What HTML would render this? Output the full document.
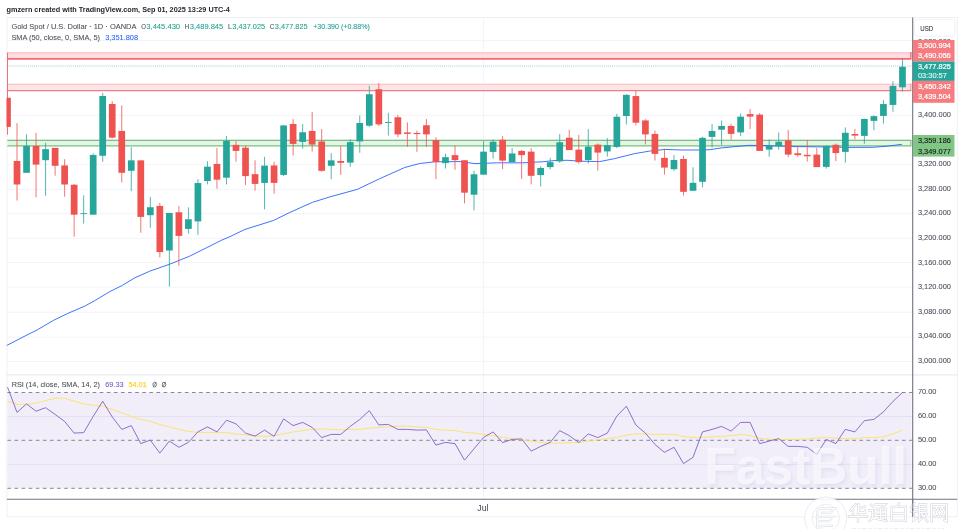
<!DOCTYPE html>
<html><head><meta charset="utf-8"><title>chart</title>
<style>html,body{margin:0;padding:0;background:#fff;}svg{display:block;font-family:"Liberation Sans",sans-serif;}</style></head><body>
<svg width="964" height="529" viewBox="0 0 964 529">
<rect x="0" y="0" width="964" height="529" fill="#ffffff"/>
<g opacity="0.999">
<defs><clipPath id="cp"><rect x="6.5" y="17.5" width="906.2" height="481.8"/></clipPath></defs>
<text x="6.5" y="11.9" font-size="7.3" font-weight="bold" fill="#1d2029" textLength="223.3" lengthAdjust="spacingAndGlyphs">gmzern created with TradingView.com, Sep 01, 2025 13:29 UTC-4</text>
<rect x="6.9" y="17.5" width="950.4" height="499.29999999999995" fill="none" stroke="#eef0f4" stroke-width="1"/>
<line x1="7.4" y1="40.6" x2="912.2" y2="40.6" stroke="#f2f4fb" stroke-width="1"/>
<line x1="7.4" y1="65.2" x2="912.2" y2="65.2" stroke="#f2f4fb" stroke-width="1"/>
<line x1="7.4" y1="90.4" x2="912.2" y2="90.4" stroke="#f2f4fb" stroke-width="1"/>
<line x1="7.4" y1="115.3" x2="912.2" y2="115.3" stroke="#f2f4fb" stroke-width="1"/>
<line x1="7.4" y1="139.9" x2="912.2" y2="139.9" stroke="#f2f4fb" stroke-width="1"/>
<line x1="7.4" y1="164.4" x2="912.2" y2="164.4" stroke="#f2f4fb" stroke-width="1"/>
<line x1="7.4" y1="189.3" x2="912.2" y2="189.3" stroke="#f2f4fb" stroke-width="1"/>
<line x1="7.4" y1="213.6" x2="912.2" y2="213.6" stroke="#f2f4fb" stroke-width="1"/>
<line x1="7.4" y1="238.3" x2="912.2" y2="238.3" stroke="#f2f4fb" stroke-width="1"/>
<line x1="7.4" y1="262.6" x2="912.2" y2="262.6" stroke="#f2f4fb" stroke-width="1"/>
<line x1="7.4" y1="287.1" x2="912.2" y2="287.1" stroke="#f2f4fb" stroke-width="1"/>
<line x1="7.4" y1="312.2" x2="912.2" y2="312.2" stroke="#f2f4fb" stroke-width="1"/>
<line x1="7.4" y1="337.1" x2="912.2" y2="337.1" stroke="#f2f4fb" stroke-width="1"/>
<line x1="7.4" y1="361.4" x2="912.2" y2="361.4" stroke="#f2f4fb" stroke-width="1"/>
<line x1="483.5" y1="17.5" x2="483.5" y2="499" stroke="#f2f4fb" stroke-width="1"/>
<line x1="6.9" y1="374.9" x2="957.3" y2="374.9" stroke="#e4e6ee" stroke-width="1"/>
<g clip-path="url(#cp)">
<rect x="7.4" y="52.0" width="903.9" height="6.950000000000003" fill="#fddde0"/>
<line x1="7.4" y1="53.0" x2="911.3" y2="53.0" stroke="#fdcdd1" stroke-width="2.0"/>
<line x1="7.4" y1="58.95" x2="911.3" y2="58.95" stroke="#f76873" stroke-width="1.75"/>
<line x1="910.9" y1="52.0" x2="910.9" y2="58.95" stroke="#f76873" stroke-width="1.40"/>
<rect x="7.4" y="83.7" width="903.9" height="6.849999999999994" fill="#fde4e6"/>
<line x1="7.4" y1="84.3" x2="911.3" y2="84.3" stroke="#fac8cb" stroke-width="1.2"/>
<line x1="7.4" y1="90.55" x2="911.3" y2="90.55" stroke="#f77c82" stroke-width="1.15"/>
<line x1="910.9" y1="83.7" x2="910.9" y2="90.55" stroke="#f77c82" stroke-width="0.92"/>
<rect x="7.4" y="140.3" width="903.9" height="5.5" fill="#e7f4e8"/>
<line x1="7.4" y1="140.35" x2="911.3" y2="140.35" stroke="#79c17e" stroke-width="1.25"/>
<line x1="7.4" y1="145.8" x2="911.3" y2="145.8" stroke="#79c17e" stroke-width="1.35"/>
<line x1="910.9" y1="140.3" x2="910.9" y2="146.2" stroke="#79c17e" stroke-width="1.1"/>
<line x1="7.4" y1="66.3" x2="912.2" y2="66.3" stroke="#26a69a" stroke-width="0.8" stroke-dasharray="0.9 1.15" opacity="0.5"/>
<polyline points="6.7,345.5 25.0,336.0 37.4,329.8 53.6,320.3 67.4,313.6 84.8,306.1 94.8,300.6 109.8,291.6 122.3,285.4 134.7,277.9 149.7,271.2 169.7,264.2 189.6,256.2 207.1,247.5 222.0,240.0 230.0,236.6 245.0,229.4 273.7,220.4 289.9,212.4 312.3,202.4 329.8,196.9 357.2,189.4 379.7,178.7 404.7,167.5 419.6,163.5 434.6,161.8 460.0,161.6 475.0,163.6 497.4,162.8 522.4,162.8 542.3,161.8 556.0,160.4 568.0,160.3 580.0,161.2 599.7,161.6 614.7,158.6 634.7,153.6 649.6,151.1 665.0,149.4 682.0,150.0 699.0,150.0 710.0,149.7 720.0,148.1 735.0,146.6 748.5,145.4 765.0,145.5 790.0,146.5 815.0,146.8 832.0,147.0 848.0,147.4 873.0,147.3 887.0,146.2 895.0,145.2 902.0,144.3" fill="none" stroke="#2962ff" stroke-width="0.9" stroke-linejoin="round"/>
<line x1="7.50" y1="52.5" x2="7.50" y2="134.8" stroke="#ef5350" stroke-width="0.8"/>
<rect x="4.15" y="97.75" width="6.7" height="29.15" fill="#ef5350"/>
<line x1="17.02" y1="123.1" x2="17.02" y2="200.6" stroke="#ef5350" stroke-width="0.8"/>
<rect x="13.67" y="160.95" width="6.7" height="23.55" fill="#ef5350"/>
<line x1="26.54" y1="134.3" x2="26.54" y2="172.5" stroke="#26a69a" stroke-width="0.8"/>
<rect x="23.19" y="145.85" width="6.7" height="26.95" fill="#26a69a"/>
<line x1="36.06" y1="132.8" x2="36.06" y2="197.4" stroke="#ef5350" stroke-width="0.8"/>
<rect x="32.71" y="145.85" width="6.7" height="18.75" fill="#ef5350"/>
<line x1="45.58" y1="142.8" x2="45.58" y2="195.7" stroke="#26a69a" stroke-width="0.8"/>
<rect x="42.23" y="149.15" width="6.7" height="11.05" fill="#26a69a"/>
<line x1="55.11" y1="148.0" x2="55.11" y2="175.7" stroke="#ef5350" stroke-width="0.8"/>
<rect x="51.76" y="147.85" width="6.7" height="17.95" fill="#ef5350"/>
<line x1="64.63" y1="159.2" x2="64.63" y2="196.7" stroke="#ef5350" stroke-width="0.8"/>
<rect x="61.28" y="165.45" width="6.7" height="19.05" fill="#ef5350"/>
<line x1="74.15" y1="184.0" x2="74.15" y2="236.6" stroke="#ef5350" stroke-width="0.8"/>
<rect x="70.80" y="184.75" width="6.7" height="29.95" fill="#ef5350"/>
<line x1="83.67" y1="195.4" x2="83.67" y2="223.6" stroke="#26a69a" stroke-width="0.8"/>
<rect x="80.32" y="213.20" width="6.7" height="0.90" fill="#26a69a"/>
<line x1="93.19" y1="153.3" x2="93.19" y2="214.4" stroke="#26a69a" stroke-width="0.8"/>
<rect x="89.84" y="154.95" width="6.7" height="59.75" fill="#26a69a"/>
<line x1="102.71" y1="92.9" x2="102.71" y2="161.8" stroke="#26a69a" stroke-width="0.8"/>
<rect x="99.36" y="95.95" width="6.7" height="59.85" fill="#26a69a"/>
<line x1="112.23" y1="101.1" x2="112.23" y2="138.5" stroke="#ef5350" stroke-width="0.8"/>
<rect x="108.88" y="103.95" width="6.7" height="33.65" fill="#ef5350"/>
<line x1="121.75" y1="105.4" x2="121.75" y2="182.4" stroke="#ef5350" stroke-width="0.8"/>
<rect x="118.40" y="130.95" width="6.7" height="41.85" fill="#ef5350"/>
<line x1="131.27" y1="147.3" x2="131.27" y2="191.2" stroke="#26a69a" stroke-width="0.8"/>
<rect x="127.92" y="160.35" width="6.7" height="10.45" fill="#26a69a"/>
<line x1="140.79" y1="160.5" x2="140.79" y2="232.8" stroke="#ef5350" stroke-width="0.8"/>
<rect x="137.44" y="160.35" width="6.7" height="56.55" fill="#ef5350"/>
<line x1="150.31" y1="196.9" x2="150.31" y2="227.8" stroke="#26a69a" stroke-width="0.8"/>
<rect x="146.97" y="207.25" width="6.7" height="7.95" fill="#26a69a"/>
<line x1="159.84" y1="202.9" x2="159.84" y2="257.4" stroke="#ef5350" stroke-width="0.8"/>
<rect x="156.49" y="205.95" width="6.7" height="46.15" fill="#ef5350"/>
<line x1="169.36" y1="213.1" x2="169.36" y2="286.5" stroke="#26a69a" stroke-width="0.8"/>
<rect x="166.01" y="212.95" width="6.7" height="37.55" fill="#26a69a"/>
<line x1="178.88" y1="206.1" x2="178.88" y2="265.8" stroke="#ef5350" stroke-width="0.8"/>
<rect x="175.53" y="212.25" width="6.7" height="23.65" fill="#ef5350"/>
<line x1="188.40" y1="207.4" x2="188.40" y2="233.6" stroke="#26a69a" stroke-width="0.8"/>
<rect x="185.05" y="219.25" width="6.7" height="9.65" fill="#26a69a"/>
<line x1="197.92" y1="179.2" x2="197.92" y2="234.8" stroke="#26a69a" stroke-width="0.8"/>
<rect x="194.57" y="183.05" width="6.7" height="38.35" fill="#26a69a"/>
<line x1="207.44" y1="161.1" x2="207.44" y2="184.4" stroke="#26a69a" stroke-width="0.8"/>
<rect x="204.09" y="166.65" width="6.7" height="14.35" fill="#26a69a"/>
<line x1="216.96" y1="148.0" x2="216.96" y2="188.7" stroke="#ef5350" stroke-width="0.8"/>
<rect x="213.61" y="163.95" width="6.7" height="15.75" fill="#ef5350"/>
<line x1="226.48" y1="136.0" x2="226.48" y2="184.4" stroke="#26a69a" stroke-width="0.8"/>
<rect x="223.13" y="140.85" width="6.7" height="36.85" fill="#26a69a"/>
<line x1="236.00" y1="141.1" x2="236.00" y2="161.7" stroke="#ef5350" stroke-width="0.8"/>
<rect x="232.65" y="144.85" width="6.7" height="6.05" fill="#ef5350"/>
<line x1="245.53" y1="145.6" x2="245.53" y2="184.9" stroke="#ef5350" stroke-width="0.8"/>
<rect x="242.18" y="147.65" width="6.7" height="28.45" fill="#ef5350"/>
<line x1="255.05" y1="160.3" x2="255.05" y2="190.7" stroke="#ef5350" stroke-width="0.8"/>
<rect x="251.70" y="174.15" width="6.7" height="9.75" fill="#ef5350"/>
<line x1="264.57" y1="156.8" x2="264.57" y2="209.4" stroke="#26a69a" stroke-width="0.8"/>
<rect x="261.22" y="165.65" width="6.7" height="17.25" fill="#26a69a"/>
<line x1="274.09" y1="161.8" x2="274.09" y2="193.7" stroke="#ef5350" stroke-width="0.8"/>
<rect x="270.74" y="165.45" width="6.7" height="17.45" fill="#ef5350"/>
<line x1="283.61" y1="124.9" x2="283.61" y2="176.1" stroke="#26a69a" stroke-width="0.8"/>
<rect x="280.26" y="125.45" width="6.7" height="49.45" fill="#26a69a"/>
<line x1="293.13" y1="119.1" x2="293.13" y2="155.6" stroke="#ef5350" stroke-width="0.8"/>
<rect x="289.78" y="123.95" width="6.7" height="19.95" fill="#ef5350"/>
<line x1="302.65" y1="124.1" x2="302.65" y2="148.6" stroke="#26a69a" stroke-width="0.8"/>
<rect x="299.30" y="132.25" width="6.7" height="9.65" fill="#26a69a"/>
<line x1="312.17" y1="111.9" x2="312.17" y2="151.6" stroke="#ef5350" stroke-width="0.8"/>
<rect x="308.82" y="130.95" width="6.7" height="13.65" fill="#ef5350"/>
<line x1="321.69" y1="129.1" x2="321.69" y2="171.8" stroke="#ef5350" stroke-width="0.8"/>
<rect x="318.34" y="141.45" width="6.7" height="29.35" fill="#ef5350"/>
<line x1="331.21" y1="153.1" x2="331.21" y2="179.3" stroke="#26a69a" stroke-width="0.8"/>
<rect x="327.86" y="160.35" width="6.7" height="5.45" fill="#26a69a"/>
<line x1="340.74" y1="146.1" x2="340.74" y2="174.8" stroke="#ef5350" stroke-width="0.8"/>
<rect x="337.38" y="161.00" width="6.7" height="1.80" fill="#ef5350"/>
<line x1="350.26" y1="139.3" x2="350.26" y2="166.8" stroke="#26a69a" stroke-width="0.8"/>
<rect x="346.91" y="142.15" width="6.7" height="20.45" fill="#26a69a"/>
<line x1="359.78" y1="115.4" x2="359.78" y2="152.8" stroke="#26a69a" stroke-width="0.8"/>
<rect x="356.43" y="122.95" width="6.7" height="18.45" fill="#26a69a"/>
<line x1="369.30" y1="85.7" x2="369.30" y2="126.9" stroke="#26a69a" stroke-width="0.8"/>
<rect x="365.95" y="94.25" width="6.7" height="31.45" fill="#26a69a"/>
<line x1="378.82" y1="83.0" x2="378.82" y2="126.1" stroke="#ef5350" stroke-width="0.8"/>
<rect x="375.47" y="89.25" width="6.7" height="35.15" fill="#ef5350"/>
<line x1="388.34" y1="112.9" x2="388.34" y2="135.6" stroke="#26a69a" stroke-width="0.8"/>
<rect x="384.99" y="122.00" width="6.7" height="0.90" fill="#26a69a"/>
<line x1="397.86" y1="114.9" x2="397.86" y2="137.3" stroke="#ef5350" stroke-width="0.8"/>
<rect x="394.51" y="117.25" width="6.7" height="17.15" fill="#ef5350"/>
<line x1="407.38" y1="122.4" x2="407.38" y2="146.8" stroke="#ef5350" stroke-width="0.8"/>
<rect x="404.03" y="132.40" width="6.7" height="1.50" fill="#ef5350"/>
<line x1="416.90" y1="130.6" x2="416.90" y2="151.8" stroke="#ef5350" stroke-width="0.8"/>
<rect x="413.55" y="132.90" width="6.7" height="1.20" fill="#ef5350"/>
<line x1="426.42" y1="119.1" x2="426.42" y2="146.8" stroke="#ef5350" stroke-width="0.8"/>
<rect x="423.07" y="125.25" width="6.7" height="9.15" fill="#ef5350"/>
<line x1="435.95" y1="137.3" x2="435.95" y2="179.3" stroke="#ef5350" stroke-width="0.8"/>
<rect x="432.60" y="140.15" width="6.7" height="21.95" fill="#ef5350"/>
<line x1="445.47" y1="153.6" x2="445.47" y2="168.5" stroke="#26a69a" stroke-width="0.8"/>
<rect x="442.12" y="157.15" width="6.7" height="5.95" fill="#26a69a"/>
<line x1="454.99" y1="145.6" x2="454.99" y2="169.8" stroke="#ef5350" stroke-width="0.8"/>
<rect x="451.64" y="155.15" width="6.7" height="4.95" fill="#ef5350"/>
<line x1="464.51" y1="160.4" x2="464.51" y2="203.4" stroke="#ef5350" stroke-width="0.8"/>
<rect x="461.16" y="160.25" width="6.7" height="32.45" fill="#ef5350"/>
<line x1="474.03" y1="170.8" x2="474.03" y2="210.4" stroke="#26a69a" stroke-width="0.8"/>
<rect x="470.68" y="174.25" width="6.7" height="20.45" fill="#26a69a"/>
<line x1="483.55" y1="141.1" x2="483.55" y2="174.4" stroke="#26a69a" stroke-width="0.8"/>
<rect x="480.20" y="151.65" width="6.7" height="23.05" fill="#26a69a"/>
<line x1="493.07" y1="139.4" x2="493.07" y2="158.6" stroke="#26a69a" stroke-width="0.8"/>
<rect x="489.72" y="141.75" width="6.7" height="10.15" fill="#26a69a"/>
<line x1="502.59" y1="136.1" x2="502.59" y2="169.1" stroke="#ef5350" stroke-width="0.8"/>
<rect x="499.24" y="139.75" width="6.7" height="20.85" fill="#ef5350"/>
<line x1="512.11" y1="148.1" x2="512.11" y2="161.8" stroke="#26a69a" stroke-width="0.8"/>
<rect x="508.76" y="153.45" width="6.7" height="8.65" fill="#26a69a"/>
<line x1="521.63" y1="149.8" x2="521.63" y2="179.0" stroke="#ef5350" stroke-width="0.8"/>
<rect x="518.28" y="150.95" width="6.7" height="4.15" fill="#ef5350"/>
<line x1="531.16" y1="148.1" x2="531.16" y2="184.3" stroke="#ef5350" stroke-width="0.8"/>
<rect x="527.81" y="151.65" width="6.7" height="24.15" fill="#ef5350"/>
<line x1="540.68" y1="166.1" x2="540.68" y2="186.5" stroke="#26a69a" stroke-width="0.8"/>
<rect x="537.33" y="167.95" width="6.7" height="7.15" fill="#26a69a"/>
<line x1="550.20" y1="157.8" x2="550.20" y2="169.3" stroke="#26a69a" stroke-width="0.8"/>
<rect x="546.85" y="162.15" width="6.7" height="4.95" fill="#26a69a"/>
<line x1="559.72" y1="134.1" x2="559.72" y2="162.8" stroke="#26a69a" stroke-width="0.8"/>
<rect x="556.37" y="142.25" width="6.7" height="19.15" fill="#26a69a"/>
<line x1="569.24" y1="129.9" x2="569.24" y2="149.8" stroke="#ef5350" stroke-width="0.8"/>
<rect x="565.89" y="137.75" width="6.7" height="12.35" fill="#ef5350"/>
<line x1="578.76" y1="134.9" x2="578.76" y2="163.6" stroke="#ef5350" stroke-width="0.8"/>
<rect x="575.41" y="149.65" width="6.7" height="12.45" fill="#ef5350"/>
<line x1="588.28" y1="129.1" x2="588.28" y2="163.6" stroke="#26a69a" stroke-width="0.8"/>
<rect x="584.93" y="146.65" width="6.7" height="13.45" fill="#26a69a"/>
<line x1="597.80" y1="143.6" x2="597.80" y2="170.5" stroke="#ef5350" stroke-width="0.8"/>
<rect x="594.45" y="144.65" width="6.7" height="7.95" fill="#ef5350"/>
<line x1="607.32" y1="138.1" x2="607.32" y2="156.6" stroke="#26a69a" stroke-width="0.8"/>
<rect x="603.97" y="145.15" width="6.7" height="6.25" fill="#26a69a"/>
<line x1="616.84" y1="113.7" x2="616.84" y2="148.1" stroke="#26a69a" stroke-width="0.8"/>
<rect x="613.49" y="116.75" width="6.7" height="30.15" fill="#26a69a"/>
<line x1="626.37" y1="94.2" x2="626.37" y2="124.4" stroke="#26a69a" stroke-width="0.8"/>
<rect x="623.01" y="94.85" width="6.7" height="21.15" fill="#26a69a"/>
<line x1="635.89" y1="90.7" x2="635.89" y2="125.6" stroke="#ef5350" stroke-width="0.8"/>
<rect x="632.54" y="96.05" width="6.7" height="26.65" fill="#ef5350"/>
<line x1="645.41" y1="119.2" x2="645.41" y2="144.4" stroke="#ef5350" stroke-width="0.8"/>
<rect x="642.06" y="120.45" width="6.7" height="13.95" fill="#ef5350"/>
<line x1="654.93" y1="130.6" x2="654.93" y2="160.6" stroke="#ef5350" stroke-width="0.8"/>
<rect x="651.58" y="133.95" width="6.7" height="19.95" fill="#ef5350"/>
<line x1="664.45" y1="148.6" x2="664.45" y2="174.6" stroke="#ef5350" stroke-width="0.8"/>
<rect x="661.10" y="157.85" width="6.7" height="9.75" fill="#ef5350"/>
<line x1="673.97" y1="155.1" x2="673.97" y2="170.8" stroke="#26a69a" stroke-width="0.8"/>
<rect x="670.62" y="159.95" width="6.7" height="9.25" fill="#26a69a"/>
<line x1="683.49" y1="155.6" x2="683.49" y2="195.5" stroke="#ef5350" stroke-width="0.8"/>
<rect x="680.14" y="158.95" width="6.7" height="32.85" fill="#ef5350"/>
<line x1="693.01" y1="167.3" x2="693.01" y2="190.5" stroke="#26a69a" stroke-width="0.8"/>
<rect x="689.66" y="182.85" width="6.7" height="7.95" fill="#26a69a"/>
<line x1="702.53" y1="136.8" x2="702.53" y2="187.4" stroke="#26a69a" stroke-width="0.8"/>
<rect x="699.18" y="137.85" width="6.7" height="43.95" fill="#26a69a"/>
<line x1="712.05" y1="124.1" x2="712.05" y2="147.6" stroke="#26a69a" stroke-width="0.8"/>
<rect x="708.70" y="130.95" width="6.7" height="5.95" fill="#26a69a"/>
<line x1="721.58" y1="120.6" x2="721.58" y2="144.9" stroke="#26a69a" stroke-width="0.8"/>
<rect x="718.23" y="125.95" width="6.7" height="3.75" fill="#26a69a"/>
<line x1="731.10" y1="123.9" x2="731.10" y2="139.6" stroke="#ef5350" stroke-width="0.8"/>
<rect x="727.75" y="125.95" width="6.7" height="7.95" fill="#ef5350"/>
<line x1="740.62" y1="113.6" x2="740.62" y2="135.9" stroke="#26a69a" stroke-width="0.8"/>
<rect x="737.27" y="116.65" width="6.7" height="15.75" fill="#26a69a"/>
<line x1="750.14" y1="109.1" x2="750.14" y2="129.1" stroke="#ef5350" stroke-width="0.8"/>
<rect x="746.79" y="114.10" width="6.7" height="2.50" fill="#ef5350"/>
<line x1="759.66" y1="113.1" x2="759.66" y2="150.6" stroke="#ef5350" stroke-width="0.8"/>
<rect x="756.31" y="114.65" width="6.7" height="36.25" fill="#ef5350"/>
<line x1="769.18" y1="139.5" x2="769.18" y2="156.7" stroke="#26a69a" stroke-width="0.8"/>
<rect x="765.83" y="145.65" width="6.7" height="3.95" fill="#26a69a"/>
<line x1="778.70" y1="132.4" x2="778.70" y2="149.6" stroke="#26a69a" stroke-width="0.8"/>
<rect x="775.35" y="141.75" width="6.7" height="4.15" fill="#26a69a"/>
<line x1="788.22" y1="129.9" x2="788.22" y2="157.3" stroke="#ef5350" stroke-width="0.8"/>
<rect x="784.87" y="140.45" width="6.7" height="14.15" fill="#ef5350"/>
<line x1="797.74" y1="146.1" x2="797.74" y2="156.8" stroke="#ef5350" stroke-width="0.8"/>
<rect x="794.39" y="153.30" width="6.7" height="1.80" fill="#ef5350"/>
<line x1="807.26" y1="139.9" x2="807.26" y2="161.6" stroke="#ef5350" stroke-width="0.8"/>
<rect x="803.91" y="154.80" width="6.7" height="1.50" fill="#ef5350"/>
<line x1="816.79" y1="148.1" x2="816.79" y2="166.8" stroke="#ef5350" stroke-width="0.8"/>
<rect x="813.44" y="154.65" width="6.7" height="12.45" fill="#ef5350"/>
<line x1="826.31" y1="145.5" x2="826.31" y2="168.6" stroke="#26a69a" stroke-width="0.8"/>
<rect x="822.96" y="145.95" width="6.7" height="20.95" fill="#26a69a"/>
<line x1="835.83" y1="143.6" x2="835.83" y2="161.1" stroke="#ef5350" stroke-width="0.8"/>
<rect x="832.48" y="144.75" width="6.7" height="8.35" fill="#ef5350"/>
<line x1="845.35" y1="127.4" x2="845.35" y2="162.8" stroke="#26a69a" stroke-width="0.8"/>
<rect x="842.00" y="132.75" width="6.7" height="19.15" fill="#26a69a"/>
<line x1="854.87" y1="128.9" x2="854.87" y2="139.4" stroke="#ef5350" stroke-width="0.8"/>
<rect x="851.52" y="134.00" width="6.7" height="1.60" fill="#ef5350"/>
<line x1="864.39" y1="118.6" x2="864.39" y2="143.8" stroke="#26a69a" stroke-width="0.8"/>
<rect x="861.04" y="118.95" width="6.7" height="16.95" fill="#26a69a"/>
<line x1="873.91" y1="115.3" x2="873.91" y2="130.3" stroke="#26a69a" stroke-width="0.8"/>
<rect x="870.56" y="116.15" width="6.7" height="4.75" fill="#26a69a"/>
<line x1="883.43" y1="99.9" x2="883.43" y2="123.6" stroke="#26a69a" stroke-width="0.8"/>
<rect x="880.08" y="104.05" width="6.7" height="11.85" fill="#26a69a"/>
<line x1="892.95" y1="81.2" x2="892.95" y2="111.8" stroke="#26a69a" stroke-width="0.8"/>
<rect x="889.60" y="85.95" width="6.7" height="18.95" fill="#26a69a"/>
<line x1="902.47" y1="58.7" x2="902.47" y2="91.6" stroke="#26a69a" stroke-width="0.8"/>
<rect x="899.12" y="66.75" width="6.7" height="20.55" fill="#26a69a"/>
</g>
<rect x="7.4" y="392.5" width="904.1" height="95.80000000000001" fill="#f1eefa"/>
<line x1="7.4" y1="416.5" x2="912.2" y2="416.5" stroke="#e4e0f3" stroke-width="1"/>
<line x1="7.4" y1="464.4" x2="912.2" y2="464.4" stroke="#e4e0f3" stroke-width="1"/>
<line x1="483.5" y1="392.5" x2="483.5" y2="488.3" stroke="#e4e0f3" stroke-width="1"/>
<line x1="7.4" y1="392.5" x2="912.2" y2="392.5" stroke="#787b86" stroke-width="0.9" stroke-dasharray="3.6 3.5"/>
<line x1="7.4" y1="440.3" x2="912.2" y2="440.3" stroke="#787b86" stroke-width="0.9" stroke-dasharray="3.6 3.5"/>
<line x1="7.4" y1="488.3" x2="912.2" y2="488.3" stroke="#787b86" stroke-width="0.9" stroke-dasharray="3.6 3.5"/>
<polyline points="7.5,401.2 17.0,404.4 26.5,404.4 36.1,403.2 45.6,400.7 55.1,398.2 64.6,398.2 74.1,401.2 83.7,403.9 93.2,405.2 102.7,406.2 112.2,409.4 121.8,412.7 131.3,416.4 140.8,419.4 150.3,421.4 159.8,424.4 169.4,426.9 178.9,429.4 188.4,431.4 197.9,432.4 207.4,432.4 217.0,432.4 226.5,432.6 236.0,434.1 245.5,434.9 255.0,436.1 264.6,436.4 274.1,435.6 283.6,433.9 293.1,431.9 302.7,430.6 312.2,429.4 321.7,428.9 331.2,429.4 340.7,429.9 350.3,429.4 359.8,429.4 369.3,428.1 378.8,427.4 388.3,426.9 397.9,426.1 407.4,426.1 416.9,426.9 426.4,427.4 435.9,429.4 445.5,430.1 455.0,430.6 464.5,432.4 474.0,433.1 483.6,434.4 493.1,435.6 502.6,437.4 512.1,438.6 521.6,439.9 531.2,441.1 540.7,442.4 550.2,443.1 559.7,443.1 569.2,442.6 578.8,442.4 588.3,441.1 597.8,439.9 607.3,438.6 616.8,437.4 626.4,435.1 635.9,433.9 645.4,433.9 654.9,434.4 664.4,434.4 674.0,434.4 683.5,436.4 693.0,437.6 702.5,437.6 712.1,436.9 721.6,436.4 731.1,435.6 740.6,434.4 750.1,435.6 759.7,438.1 769.2,439.4 778.7,439.4 788.2,439.4 797.7,439.4 807.3,438.9 816.8,438.1 826.3,437.4 835.8,438.1 845.3,438.6 854.9,438.6 864.4,437.6 873.9,437.6 883.4,436.9 893.0,433.9 902.5,430.1" fill="none" stroke="#fbe258" stroke-width="0.85" stroke-linejoin="round" clip-path="url(#cp)"/>
<polyline points="7.5,387.0 17.0,412.4 26.5,403.9 36.1,411.2 45.6,407.7 55.1,414.4 64.6,421.4 74.1,433.1 83.7,432.6 93.2,416.4 102.7,401.2 112.2,416.9 121.8,429.4 131.3,425.6 140.8,443.6 150.3,440.1 159.8,453.1 169.4,441.1 178.9,447.3 188.4,442.4 197.9,431.9 207.4,426.9 217.0,431.9 226.5,420.2 236.0,423.9 245.5,433.1 255.0,436.1 264.6,430.1 274.1,436.4 283.6,418.9 293.1,425.6 302.7,422.4 312.2,427.4 321.7,437.6 331.2,434.4 340.7,434.4 350.3,426.4 359.8,419.4 369.3,410.7 378.8,424.9 388.3,424.4 397.9,429.4 407.4,429.4 416.9,430.1 426.4,429.9 435.9,445.1 445.5,442.4 455.0,443.6 464.5,460.1 474.0,448.8 483.6,437.4 493.1,431.9 502.6,442.6 512.1,439.4 521.6,438.9 531.2,451.1 540.7,446.4 550.2,442.4 559.7,430.6 569.2,435.6 578.8,442.6 588.3,433.9 597.8,437.6 607.3,433.1 616.8,416.2 626.4,406.2 635.9,425.1 645.4,433.1 654.9,444.4 664.4,452.3 674.0,447.3 683.5,463.6 693.0,457.3 702.5,431.9 712.1,429.4 721.6,426.4 731.1,431.1 740.6,422.4 750.1,422.4 759.7,443.6 769.2,441.1 778.7,438.6 788.2,446.4 797.7,446.4 807.3,447.3 816.8,454.3 826.3,439.4 835.8,443.6 845.3,429.4 854.9,431.9 864.4,420.7 873.9,419.4 883.4,411.9 893.0,401.4 902.5,392.5" fill="none" stroke="#7e57c2" stroke-width="0.85" stroke-linejoin="round" clip-path="url(#cp)"/>
<line x1="912.7" y1="17.5" x2="912.7" y2="516.8" stroke="#6f7381" stroke-width="1.1"/>
<line x1="6.9" y1="499.3" x2="957.3" y2="499.3" stroke="#6f7381" stroke-width="1.1"/>
<text x="11.4" y="29.0" font-size="7.8" fill="#4a4d57" stroke="#4a4d57" stroke-width="0.07" textLength="125.1" lengthAdjust="spacingAndGlyphs">Gold Spot / U.S. Dollar · 1D · OANDA</text>
<text x="141.3" y="29.0" font-size="7.8" fill="#4a4d57" stroke="#4a4d57" stroke-width="0.07" textLength="4.7" lengthAdjust="spacingAndGlyphs">O</text>
<text x="146.3" y="29.0" font-size="7.8" fill="#22a192" stroke="#22a192" stroke-width="0.07" textLength="33.8" lengthAdjust="spacingAndGlyphs">3,445.430</text>
<text x="184.8" y="29.0" font-size="7.8" fill="#4a4d57" stroke="#4a4d57" stroke-width="0.07" textLength="4.5" lengthAdjust="spacingAndGlyphs">H</text>
<text x="189.8" y="29.0" font-size="7.8" fill="#22a192" stroke="#22a192" stroke-width="0.07" textLength="33.4" lengthAdjust="spacingAndGlyphs">3,489.845</text>
<text x="227.9" y="29.0" font-size="7.8" fill="#4a4d57" stroke="#4a4d57" stroke-width="0.07" textLength="3.8" lengthAdjust="spacingAndGlyphs">L</text>
<text x="232.3" y="29.0" font-size="7.8" fill="#22a192" stroke="#22a192" stroke-width="0.07" textLength="32.8" lengthAdjust="spacingAndGlyphs">3,437.025</text>
<text x="269.8" y="29.0" font-size="7.8" fill="#4a4d57" stroke="#4a4d57" stroke-width="0.07" textLength="4.6" lengthAdjust="spacingAndGlyphs">C</text>
<text x="274.8" y="29.0" font-size="7.8" fill="#22a192" stroke="#22a192" stroke-width="0.07" textLength="32.8" lengthAdjust="spacingAndGlyphs">3,477.825</text>
<text x="313.2" y="29.0" font-size="7.8" fill="#22a192" stroke="#22a192" stroke-width="0.07" textLength="56.6" lengthAdjust="spacingAndGlyphs">+30.390 (+0.88%)</text>
<text x="11.4" y="40.0" font-size="7.8" fill="#4a4d57" stroke="#4a4d57" stroke-width="0.07" textLength="88.6" lengthAdjust="spacingAndGlyphs">SMA (50, close, 0, SMA, 5)</text>
<text x="105.2" y="40.0" font-size="7.8" fill="#2962ff" stroke="#2962ff" stroke-width="0.07" textLength="32.8" lengthAdjust="spacingAndGlyphs">3,351.808</text>
<text x="11.7" y="387.2" font-size="7.8" fill="#4a4d57" stroke="#4a4d57" stroke-width="0.07" textLength="88.3" lengthAdjust="spacingAndGlyphs">RSI (14, close, SMA, 14, 2)</text>
<text x="105.2" y="387.2" font-size="7.8" fill="#7e57c2" stroke="#7e57c2" stroke-width="0.07" textLength="18.4" lengthAdjust="spacingAndGlyphs">69.33</text>
<text x="128.4" y="387.2" font-size="7.8" fill="#fbd633" stroke="#fbd633" stroke-width="0.25" textLength="18.4" lengthAdjust="spacingAndGlyphs">54.01</text>
<ellipse cx="154.7" cy="384.6" rx="1.75" ry="2.35" fill="none" stroke="#4a4d57" stroke-width="0.75"/>
<line x1="153.1" y1="387.3" x2="156.29999999999998" y2="381.9" stroke="#4a4d57" stroke-width="0.6"/>
<ellipse cx="164.0" cy="384.6" rx="1.75" ry="2.35" fill="none" stroke="#4a4d57" stroke-width="0.75"/>
<line x1="162.4" y1="387.3" x2="165.6" y2="381.9" stroke="#4a4d57" stroke-width="0.6"/>
<text x="917.9" y="44.40" font-size="7.9" fill="#4a4d57" stroke="#4a4d57" stroke-width="0.07" textLength="33.0" lengthAdjust="spacingAndGlyphs">3,520.000</text>
<text x="917.9" y="116.80" font-size="7.9" fill="#4a4d57" stroke="#4a4d57" stroke-width="0.07" textLength="33.0" lengthAdjust="spacingAndGlyphs">3,400.000</text>
<text x="917.9" y="166.06" font-size="7.9" fill="#4a4d57" stroke="#4a4d57" stroke-width="0.07" textLength="33.0" lengthAdjust="spacingAndGlyphs">3,320.000</text>
<text x="917.9" y="190.69" font-size="7.9" fill="#4a4d57" stroke="#4a4d57" stroke-width="0.07" textLength="33.0" lengthAdjust="spacingAndGlyphs">3,280.000</text>
<text x="917.9" y="215.32" font-size="7.9" fill="#4a4d57" stroke="#4a4d57" stroke-width="0.07" textLength="33.0" lengthAdjust="spacingAndGlyphs">3,240.000</text>
<text x="917.9" y="239.95" font-size="7.9" fill="#4a4d57" stroke="#4a4d57" stroke-width="0.07" textLength="33.0" lengthAdjust="spacingAndGlyphs">3,200.000</text>
<text x="917.9" y="264.58" font-size="7.9" fill="#4a4d57" stroke="#4a4d57" stroke-width="0.07" textLength="33.0" lengthAdjust="spacingAndGlyphs">3,160.000</text>
<text x="917.9" y="289.21" font-size="7.9" fill="#4a4d57" stroke="#4a4d57" stroke-width="0.07" textLength="33.0" lengthAdjust="spacingAndGlyphs">3,120.000</text>
<text x="917.9" y="313.84" font-size="7.9" fill="#4a4d57" stroke="#4a4d57" stroke-width="0.07" textLength="33.0" lengthAdjust="spacingAndGlyphs">3,080.000</text>
<text x="917.9" y="338.47" font-size="7.9" fill="#4a4d57" stroke="#4a4d57" stroke-width="0.07" textLength="33.0" lengthAdjust="spacingAndGlyphs">3,040.000</text>
<text x="917.9" y="363.10" font-size="7.9" fill="#4a4d57" stroke="#4a4d57" stroke-width="0.07" textLength="33.0" lengthAdjust="spacingAndGlyphs">3,000.000</text>
<text x="917.9" y="394.40" font-size="7.9" fill="#4a4d57" stroke="#4a4d57" stroke-width="0.07" textLength="18.5" lengthAdjust="spacingAndGlyphs">70.00</text>
<text x="917.9" y="418.30" font-size="7.9" fill="#4a4d57" stroke="#4a4d57" stroke-width="0.07" textLength="18.5" lengthAdjust="spacingAndGlyphs">60.00</text>
<text x="917.9" y="442.30" font-size="7.9" fill="#4a4d57" stroke="#4a4d57" stroke-width="0.07" textLength="18.5" lengthAdjust="spacingAndGlyphs">50.00</text>
<text x="917.9" y="466.30" font-size="7.9" fill="#4a4d57" stroke="#4a4d57" stroke-width="0.07" textLength="18.5" lengthAdjust="spacingAndGlyphs">40.00</text>
<text x="917.9" y="490.40" font-size="7.9" fill="#4a4d57" stroke="#4a4d57" stroke-width="0.07" textLength="18.5" lengthAdjust="spacingAndGlyphs">30.00</text>
<rect x="914.6" y="19.4" width="40.3" height="16.8" rx="2.5" ry="2.5" fill="#fff" stroke="#eceef3" stroke-width="0.8"/>
<text x="920.3" y="30.8" font-size="8.0" fill="#2a2e39" stroke="#2a2e39" stroke-width="0.07" textLength="12.9" lengthAdjust="spacingAndGlyphs">USD</text>
<rect x="913.0" y="40.0" width="41.5" height="21.5" fill="#f77c80"/>
<rect x="913.0" y="61.5" width="41.5" height="19.4" fill="#26a69a"/>
<rect x="913.0" y="80.9" width="41.5" height="21.9" fill="#f77c80"/>
<rect x="913.0" y="135.0" width="41.5" height="21.6" fill="#81c784"/>
<text x="917.9" y="47.50" font-size="7.9" fill="#ffffff" stroke="#ffffff" stroke-width="0.22" textLength="33.0" lengthAdjust="spacingAndGlyphs">3,500.994</text>
<text x="917.9" y="58.40" font-size="7.9" fill="#ffffff" stroke="#ffffff" stroke-width="0.22" textLength="33.0" lengthAdjust="spacingAndGlyphs">3,490.056</text>
<text x="917.9" y="69.00" font-size="7.9" fill="#ffffff" stroke="#ffffff" stroke-width="0.22" textLength="33.0" lengthAdjust="spacingAndGlyphs">3,477.825</text>
<text x="917.9" y="78.00" font-size="7.9" fill="#e6f5f3" stroke="#e6f5f3" stroke-width="0.15" textLength="29.0" lengthAdjust="spacingAndGlyphs">03:30:57</text>
<text x="917.9" y="89.00" font-size="7.9" fill="#ffffff" stroke="#ffffff" stroke-width="0.22" textLength="33.0" lengthAdjust="spacingAndGlyphs">3,450.342</text>
<text x="917.9" y="99.10" font-size="7.9" fill="#ffffff" stroke="#ffffff" stroke-width="0.22" textLength="33.0" lengthAdjust="spacingAndGlyphs">3,439.504</text>
<text x="917.9" y="142.90" font-size="7.9" fill="#15181f" stroke="#15181f" stroke-width="0.12" textLength="33.0" lengthAdjust="spacingAndGlyphs">3,359.186</text>
<text x="917.9" y="153.50" font-size="7.9" fill="#15181f" stroke="#15181f" stroke-width="0.12" textLength="33.0" lengthAdjust="spacingAndGlyphs">3,349.077</text>
<text x="477.3" y="511.3" font-size="8.3" fill="#4a4d57" stroke="#4a4d57" stroke-width="0.07" textLength="11.1" lengthAdjust="spacingAndGlyphs">Jul</text>
<defs><filter id="ws" x="-5%" y="-20%" width="110%" height="150%"><feDropShadow dx="1.6" dy="2.2" stdDeviation="1.6" flood-color="#5a4a90" flood-opacity="0.16"/></filter></defs>
<g filter="url(#ws)">
<text y="483.8" font-size="52" font-weight="bold" fill="#ffffff" fill-opacity="0.55" x="704.6" textLength="202.5" lengthAdjust="spacingAndGlyphs">FastBull</text>
</g>
<g opacity="0.9">
<circle cx="825.7" cy="518" r="17.35" fill="none" stroke="#ffffff" stroke-width="7.3"/>
<circle cx="825.7" cy="518" r="21" fill="none" stroke="#dadce4" stroke-width="0.6"/>
<circle cx="825.7" cy="518" r="13.7" fill="none" stroke="#dadce4" stroke-width="0.6"/>
<path d="M817.2 530 L817.2 513 Q817.2 508.3 822 508.3 L834.5 508.3 L830.5 512.8 L822 512.8" transform="translate(0,0)" fill="none" stroke="#d3d6de" stroke-width="2.2" stroke-linecap="square" stroke-linejoin="miter"/>
<path d="M817.2 530 L817.2 513 Q817.2 508.3 822 508.3 L834.5 508.3 L830.5 512.8 L822 512.8" transform="translate(0,0)" fill="none" stroke="#ffffff" stroke-width="1.2" stroke-linecap="square" stroke-linejoin="miter"/>
<path d="M820.5 521.3 L829 521.3 L833 516.8 L821 516.8" transform="translate(0,0)" fill="none" stroke="#d3d6de" stroke-width="2.0" stroke-linecap="square" stroke-linejoin="miter"/>
<path d="M820.5 521.3 L829 521.3 L833 516.8 L821 516.8" transform="translate(0,0)" fill="none" stroke="#ffffff" stroke-width="1.1" stroke-linecap="square" stroke-linejoin="miter"/>
<path d="M820.5 530 L820.5 525.8 L832 525.8" transform="translate(0,0)" fill="none" stroke="#d3d6de" stroke-width="2.0" stroke-linecap="square" stroke-linejoin="miter"/>
<path d="M820.5 530 L820.5 525.8 L832 525.8" transform="translate(0,0)" fill="none" stroke="#ffffff" stroke-width="1.1" stroke-linecap="square" stroke-linejoin="miter"/>
<path d="M6 1 L1 7 M3.5 5.5 L3.5 10 M9 1 L9 9 L15.5 9 L15.5 7 M9.5 5.5 L15 3.2 M0 13.2 L17 13.2 M8.5 10.5 L8.5 18" transform="translate(849.5,503.3)" fill="none" stroke="#c9ccd4" stroke-width="2.3" stroke-linecap="square" stroke-linejoin="miter"/>
<path d="M6 1 L1 7 M3.5 5.5 L3.5 10 M9 1 L9 9 L15.5 9 L15.5 7 M9.5 5.5 L15 3.2 M0 13.2 L17 13.2 M8.5 10.5 L8.5 18" transform="translate(849.5,503.3)" fill="none" stroke="#ffffff" stroke-width="1.3" stroke-linecap="square" stroke-linejoin="miter"/>
<path d="M1.5 1.5 L3 3 M0 7 L3.2 7 L3.2 14 M0 17.5 L3.2 14.5 L17 17.5 M6 1 L16 1 L12.5 4 M6.3 5.5 L16 5.5 L16 15 M6.3 5.5 L6.3 15 M6.3 8.7 L16 8.7 M6.3 12 L16 12 M11.1 5.5 L11.1 15" transform="translate(869.5,503.3)" fill="none" stroke="#c9ccd4" stroke-width="2.3" stroke-linecap="square" stroke-linejoin="miter"/>
<path d="M1.5 1.5 L3 3 M0 7 L3.2 7 L3.2 14 M0 17.5 L3.2 14.5 L17 17.5 M6 1 L16 1 L12.5 4 M6.3 5.5 L16 5.5 L16 15 M6.3 5.5 L6.3 15 M6.3 8.7 L16 8.7 M6.3 12 L16 12 M11.1 5.5 L11.1 15" transform="translate(869.5,503.3)" fill="none" stroke="#ffffff" stroke-width="1.3" stroke-linecap="square" stroke-linejoin="miter"/>
<path d="M8.5 0 L6.5 3 M1.2 3.5 L15 3.5 L15 17.5 L1.2 17.5 Z M1.2 10.3 L15 10.3" transform="translate(890.5,503.3)" fill="none" stroke="#c9ccd4" stroke-width="2.3" stroke-linecap="square" stroke-linejoin="miter"/>
<path d="M8.5 0 L6.5 3 M1.2 3.5 L15 3.5 L15 17.5 L1.2 17.5 Z M1.2 10.3 L15 10.3" transform="translate(890.5,503.3)" fill="none" stroke="#ffffff" stroke-width="1.3" stroke-linecap="square" stroke-linejoin="miter"/>
<path d="M4 0 L1 4 M2.5 4.2 L6.5 4.2 M1 8.3 L6.5 8.3 M3.7 8.3 L3.7 17 L6.5 14.8 M9.3 1.2 L16 1.2 L16 9.2 L9.3 9.2 M9.3 5.2 L16 5.2 M9.3 1.2 L9.3 17.2 L11.6 15.2 M16.5 10.5 L12.6 13.4 M11.4 10 L17.2 18" transform="translate(910,503.3)" fill="none" stroke="#c9ccd4" stroke-width="2.3" stroke-linecap="square" stroke-linejoin="miter"/>
<path d="M4 0 L1 4 M2.5 4.2 L6.5 4.2 M1 8.3 L6.5 8.3 M3.7 8.3 L3.7 17 L6.5 14.8 M9.3 1.2 L16 1.2 L16 9.2 L9.3 9.2 M9.3 5.2 L16 5.2 M9.3 1.2 L9.3 17.2 L11.6 15.2 M16.5 10.5 L12.6 13.4 M11.4 10 L17.2 18" transform="translate(910,503.3)" fill="none" stroke="#ffffff" stroke-width="1.3" stroke-linecap="square" stroke-linejoin="miter"/>
<path d="M1 18 L1 1 L16 1 L16 18 L14 17 M4 5 L8 13.5 M8 5 L4 13.5 M9.6 5 L13.6 13.5 M13.6 5 L9.6 13.5" transform="translate(930.5,503.3)" fill="none" stroke="#c9ccd4" stroke-width="2.3" stroke-linecap="square" stroke-linejoin="miter"/>
<path d="M1 18 L1 1 L16 1 L16 18 L14 17 M4 5 L8 13.5 M8 5 L4 13.5 M9.6 5 L13.6 13.5 M13.6 5 L9.6 13.5" transform="translate(930.5,503.3)" fill="none" stroke="#ffffff" stroke-width="1.3" stroke-linecap="square" stroke-linejoin="miter"/>
</g>
<line x1="852" y1="528.6" x2="944" y2="528.6" stroke="#e3ecf7" stroke-width="0.9" stroke-dasharray="4 1.5 2.5 1.2 5 1.8"/>
<line x1="912.7" y1="499.8" x2="912.7" y2="516.8" stroke="#6f7381" stroke-width="1.1" opacity="0.8"/>
</g>
</svg>
</body></html>
